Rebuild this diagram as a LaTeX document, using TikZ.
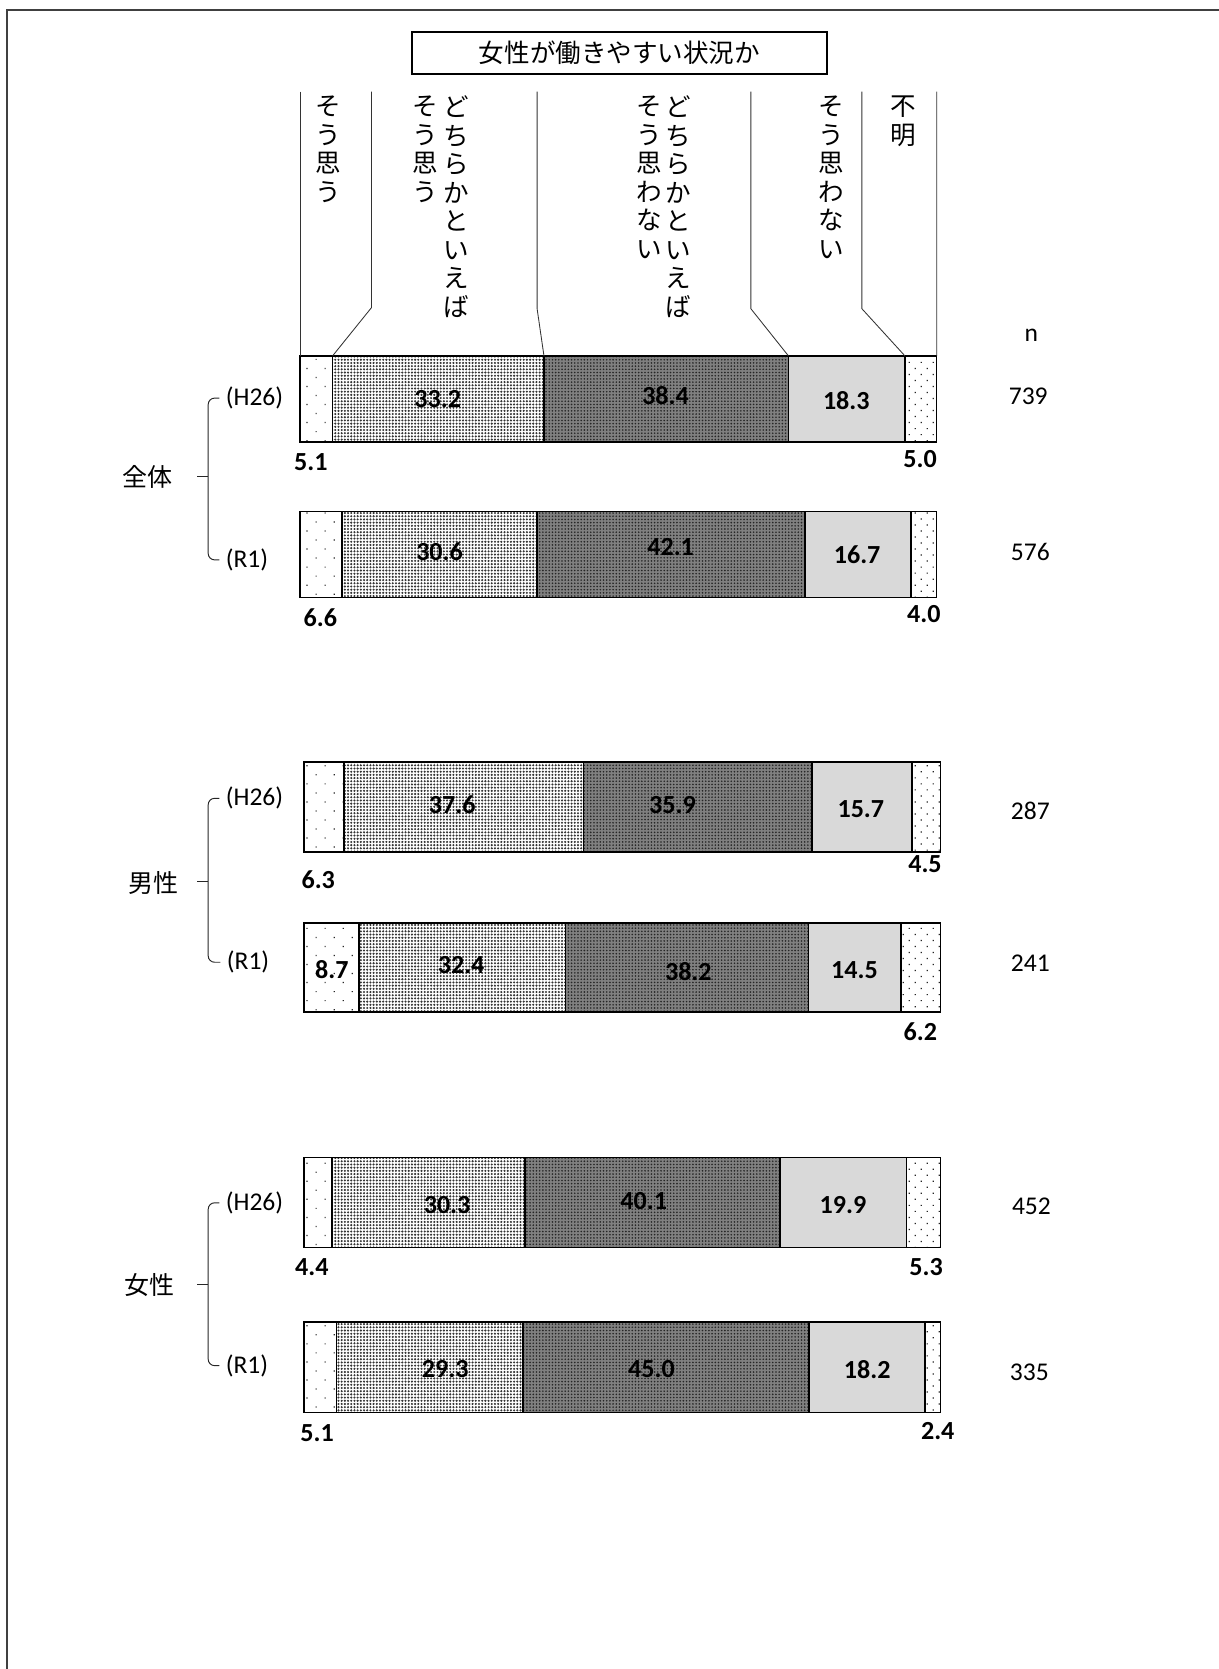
\documentclass[tikz,border=0pt]{standalone}
\usepackage{fontspec}
\setmainfont{Carlito}
\newfontfamily\jpfont{Noto Sans CJK JP}
\usetikzlibrary{
    patterns.meta,
    positioning
}
\tikzset{
    workChart/.style={
        segA/.style={
            draw,
            line width=1.5pt,
            preaction={fill=white},
            pattern={Dots[angle=45, distance=12pt, radius=0.8pt]},
            pattern color=black!85,
        },
        segB/.style={
            draw,
            line width=1.5pt,
            preaction={fill=white},
            pattern={Dots[distance=3pt, radius=1.1pt]},
            pattern color=black!80,
        },
        segC/.style={
            draw,
            line width=1.5pt,
            preaction={fill=black!50},
            pattern={Dots[distance=3pt, radius=0.85pt]},
            pattern color=black!85,
        },
        segD/.style={
            draw,
            line width=1.5pt,
            fill=black!15,
        },
        segE/.style={
            draw,
            line width=1.5pt,
            preaction={fill=white},
            pattern={Dots[angle=45, distance=8pt, radius=0.8pt]},
            pattern color=black!85,
        },
        val/.style={
            font=\bfseries\fontsize{24.5}{25}\selectfont,
            inner sep=0pt,
        },
        nlabel/.style={
            font=\fontsize{24}{25}\selectfont,
            inner sep=0pt,
        },
        yearlabel/.style={
            font=\fontsize{24}{25}\selectfont,
            inner sep=0pt,
            anchor=west,
        },
        grouplabel/.style={
            font=\jpfont\fontsize{23.5}{24}\selectfont,
            inner sep=0pt,
        },
        headtext/.style={
            font=\jpfont\fontsize{24}{26.8}\selectfont,
            align=center,
            inner sep=0pt,
            anchor=north,
        },
        titlebox/.style={
            draw,
            line width=1.2pt,
            minimum width=390pt,
            minimum height=39.5pt,
            inner sep=0pt,
            font=\jpfont\fontsize{24}{26}\selectfont,
        },
        leader/.style={
            draw=black!80,
            line width=0.8pt,
        },
        brace/.style={
            draw=black!85,
            line width=0.9pt,
            rounded corners=6pt,
        },
        frameline/.style={
            draw=black!75,
            line width=1.9pt,
        },
    }
}

\begin{document}
\begin{tikzpicture}[workChart, x=1pt, y=-1pt]
    \useasboundingbox (0,0) rectangle (1145,1568);
    \draw[frameline] (6.9,1568) -- (6.9,9.4) -- (1145,9.4);

    \node[titlebox] (title) at (582,49.75) {女性が働きやすい状況か};

    % headings
    \node[headtext] (hd1) at (308.5,90) {そ\\う\\思\\う};
    \node[headtext] (hd2a) at (429,90) {ど\\ち\\ら\\か\\と\\い\\え\\ば};
    \node[headtext] (hd2b) at (399.6,90) {そ\\う\\思\\う};
    \node[headtext] (hd3a) at (637,90) {ど\\ち\\ら\\か\\と\\い\\え\\ば};
    \node[headtext] (hd3b) at (609.6,90) {そ\\う\\思\\わ\\な\\い};
    \node[headtext] (hd4) at (781,90) {そ\\う\\思\\わ\\な\\い};
    \node[headtext] (hd5) at (849,90) {不\\明};
    \node[nlabel] (ntitle) at (969,315) {n};

    % zentai
    \begin{scope}[shift={(282,334.3)}, x=5.98pt]
        \draw[segA] (0,0) rectangle (5.1,80.7);
        \draw[segB] (5.1,0) rectangle (38.3,80.7);
        \draw[segC] (38.3,0) rectangle (76.7,80.7);
        \draw[segD] (76.7,0) rectangle (95.0,80.7);
        \draw[segE] (95.0,0) rectangle (100,80.7);
        \node[val] (v12) at (21.6,40.7) {33.2};
        \node[val] (v13) at (57.4,37.7) {38.4};
        \node[val] (v14) at (85.8,41.7) {18.3};
        \coordinate (b1t0) at (0,0);
        \coordinate (b1t1) at (5.1,0);
        \coordinate (b1t2) at (38.3,0);
        \coordinate (b1t3) at (76.7,0);
        \coordinate (b1t4) at (95.0,0);
        \coordinate (b1t5) at (100,0);
    \end{scope}
    \begin{scope}[shift={(282,480.4)}, x=5.98pt]
        \draw[segA] (0,0) rectangle (6.6,80.8);
        \draw[segB] (6.6,0) rectangle (37.2,80.8);
        \draw[segC] (37.2,0) rectangle (79.3,80.8);
        \draw[segD] (79.3,0) rectangle (96.0,80.8);
        \draw[segE] (96.0,0) rectangle (100,80.8);
        \node[val] (v22) at (21.9,37.6) {30.6};
        \node[val] (v23) at (58.2,33.6) {42.1};
        \node[val] (v24) at (87.5,40.6) {16.7};
    \end{scope}

    % dansei
    \begin{scope}[shift={(285.5,716.1)}, x=5.98pt]
        \draw[segA] (0,0) rectangle (6.3,84.2);
        \draw[segB] (6.3,0) rectangle (43.9,84.2);
        \draw[segC] (43.9,0) rectangle (79.8,84.2);
        \draw[segD] (79.8,0) rectangle (95.5,84.2);
        \draw[segE] (95.5,0) rectangle (100,84.2);
        \node[val] (v32) at (23.3,40) {37.6};
        \node[val] (v33) at (57.9,40) {35.9};
        \node[val] (v34) at (87.5,44) {15.7};
    \end{scope}
    \begin{scope}[shift={(285.5,867)}, x=5.98pt]
        \draw[segA] (0,0) rectangle (8.7,84);
        \draw[segB] (8.7,0) rectangle (41.1,84);
        \draw[segC] (41.1,0) rectangle (79.3,84);
        \draw[segD] (79.3,0) rectangle (93.8,84);
        \draw[segE] (93.8,0) rectangle (100,84);
        \node[val] (v41) at (4.4,44) {8.7};
        \node[val] (v42) at (24.7,40) {32.4};
        \node[val] (v43) at (60.4,46) {38.2};
        \node[val] (v44) at (86.5,44) {14.5};
    \end{scope}

    % josei
    \begin{scope}[shift={(285.5,1087.6)}, x=5.98pt]
        \draw[segA] (0,0) rectangle (4.4,84.4);
        \draw[segB] (4.4,0) rectangle (34.7,84.4);
        \draw[segC] (34.7,0) rectangle (74.8,84.4);
        \draw[segD] (74.8,0) rectangle (94.7,84.4);
        \draw[segE] (94.7,0) rectangle (100,84.4);
        \node[val] (v52) at (22.5,44.4) {30.3};
        \node[val] (v53) at (53.4,40.4) {40.1};
        \node[val] (v54) at (84.7,44.4) {19.9};
    \end{scope}
    \begin{scope}[shift={(285.5,1242)}, x=5.98pt]
        \draw[segA] (0,0) rectangle (5.1,85);
        \draw[segB] (5.1,0) rectangle (34.4,85);
        \draw[segC] (34.4,0) rectangle (79.4,85);
        \draw[segD] (79.4,0) rectangle (97.6,85);
        \draw[segE] (97.6,0) rectangle (100,85);
        \node[val] (v62) at (22.2,44) {29.3};
        \node[val] (v63) at (54.6,44) {45.0};
        \node[val] (v64) at (88.5,45) {18.2};
    \end{scope}

    % small values under the bars
    \node[val] (v11) at (292,434) {5.1};
    \node[val] (v15) at (864.5,431) {5.0};
    \node[val] (v21) at (301,580) {6.6};
    \node[val] (v25) at (868,577) {4.0};
    \node[val] (v31) at (299,826) {6.3};
    \node[val] (v35) at (869,812) {4.5};
    \node[val] (v45) at (864.6,969) {6.2};
    \node[val] (v51) at (293,1190) {4.4};
    \node[val] (v55) at (870,1190) {5.3};
    \node[val] (v61) at (298,1346) {5.1};
    \node[val] (v65) at (881,1344) {2.4};

    % leader lines
    \coordinate (h0) at (282,86);
    \coordinate (h1) at (349,86);
    \coordinate (h2) at (504.6,86);
    \coordinate (h3) at (705.4,86);
    \coordinate (h4) at (809.7,86);
    \coordinate (h5) at (880,86);
    \draw[leader] (h0) -- (b1t0);
    \draw[leader] (h1) -- ++(0,203) -- (b1t1);
    \draw[leader] (h2) -- ++(0,204) -- (b1t2);
    \draw[leader] (h3) -- ++(0,204) -- (b1t3);
    \draw[leader] (h4) -- ++(0,204) -- (b1t4);
    \draw[leader] (h5) -- (b1t5);

    % n
    \node[nlabel] (n1) at (966,372) {739};
    \node[nlabel] (n2) at (968,519) {576};
    \node[nlabel] (n3) at (968,762) {287};
    \node[nlabel] (n4) at (968,905) {241};
    \node[nlabel] (n5) at (969,1133) {452};
    \node[nlabel] (n6) at (967,1289) {335};

    % groups
    \node[grouplabel] (g1) at (139,448) {全体};
    \node[yearlabel] (g1h) at (212,374) {(H26)};
    \node[yearlabel] (g1r) at (212,526) {(R1)};
    \coordinate (g1m) at (195.6,448);
    \coordinate (g1t) at (185.3,448);
    \draw[brace, shorten <=6pt, shorten >=6pt] (g1h.west) -| (g1m) |- (g1r.west);
    \draw[brace] (g1m) -- (g1t);

    \node[grouplabel] (g2) at (144,829.5) {男性};
    \node[yearlabel] (g2h) at (212,750) {(H26)};
    \node[yearlabel] (g2r) at (213,904) {(R1)};
    \coordinate (g2m) at (195.6,828);
    \coordinate (g2t) at (185.3,828);
    \draw[brace, shorten <=6pt, shorten >=6pt] (g2h.west) -| (g2m) |- (g2r.west);
    \draw[brace] (g2m) -- (g2t);

    \node[grouplabel] (g3) at (140,1207) {女性};
    \node[yearlabel] (g3h) at (212,1130) {(H26)};
    \node[yearlabel] (g3r) at (212,1283) {(R1)};
    \coordinate (g3m) at (195.6,1207);
    \coordinate (g3t) at (185.3,1207);
    \draw[brace, shorten <=6pt, shorten >=6pt] (g3h.west) -| (g3m) |- (g3r.west);
    \draw[brace] (g3m) -- (g3t);
\end{tikzpicture}
\end{document}
